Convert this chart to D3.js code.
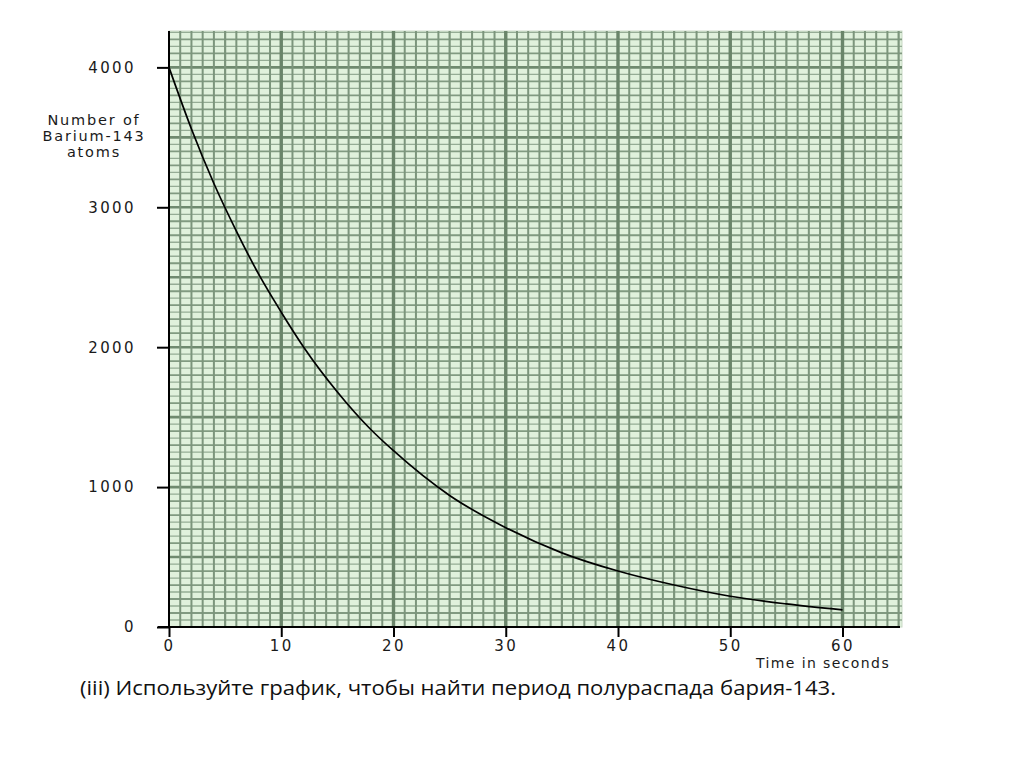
<!DOCTYPE html>
<html><head><meta charset="utf-8">
<script src="https://cdn.jsdelivr.net/npm/d3@7"></script>
<style>body{margin:0;background:#fff;}svg{display:block;}</style>
</head><body>
<svg id="c" width="1024" height="767"></svg>
<script>
const times = [0, 2, 4, 6, 8, 10, 12, 15, 18, 20, 25, 30, 35, 40, 45, 50, 55, 60];
const atoms = [4000, 3560, 3170, 2830, 2520, 2250, 2000, 1680, 1410, 1260, 940, 710, 530, 400, 300, 220, 165, 122];
const yTicks = [0, 1000, 2000, 3000, 4000];
const xTicks = [0, 10, 20, 30, 40, 50, 60];
const yLabelLines = ["Number of", "Barium-143", "atoms"];
const xLabel = "Time in seconds";
const caption = "(iii) Используйте график, чтобы найти период полураспада бария-143.";

const svg = d3.select("#c");
const x = d3.scaleLinear().domain([0, 65.3]).range([169, 902]);
const y = d3.scaleLinear().domain([0, 4260]).range([627, 31]);

svg.append("rect").attr("x", x(0)).attr("y", y(4260)).attr("width", x(65.3) - x(0)).attr("height", y(0) - y(4260))
  .attr("fill", "#e0f1dc").attr("stroke", "#c9d9c6").attr("stroke-width", 1);

const g = svg.append("g");
d3.range(50, 4260, 50).forEach(v => {
  const major = v % 500 === 0, mid = v % 100 === 0;
  g.append("line").attr("x1", x(0)).attr("x2", x(65.3)).attr("y1", y(v)).attr("y2", y(v))
    .attr("stroke", major ? "#6f8a6f" : (mid ? "#819a81" : "#95ac95"))
    .attr("stroke-width", major ? 2.6 : (mid ? 1.8 : 1.3));
});
d3.range(1, 65.3, 1).forEach(v => {
  const major = v % 10 === 0, mid = v % 5 === 0;
  g.append("line").attr("y1", y(0)).attr("y2", y(4260)).attr("x1", x(v)).attr("x2", x(v))
    .attr("stroke", major ? "#6a856a" : "#7c957c")
    .attr("stroke-width", major ? 3.4 : (mid ? 2.2 : 2));
});

const font = "'DejaVu Sans', sans-serif";
const yAxis = d3.axisLeft(y).tickValues(yTicks).tickSize(12).tickPadding(21).tickFormat(d3.format("d"));
const ya = svg.append("g").attr("transform", `translate(${x(0)},0)`).call(yAxis);
ya.select(".domain").attr("d", `M0,${y(4260)}V${y(0)}`).attr("stroke", "#000").attr("stroke-width", 2);
ya.selectAll(".tick line").attr("stroke", "#000").attr("stroke-width", 2);
ya.selectAll(".tick text").attr("font-family", font).attr("font-size", 15).attr("letter-spacing", 2.4).attr("fill", "#1a1a1a");

const xAxis = d3.axisBottom(x).tickValues(xTicks).tickSize(10).tickPadding(3).tickFormat(d3.format("d"));
const xa = svg.append("g").attr("transform", `translate(0,${y(0)})`).call(xAxis);
xa.select(".domain").attr("d", `M${x(0) - 11},0H${x(65.3) - 2}`).attr("stroke", "#000").attr("stroke-width", 2);
xa.selectAll(".tick line").attr("stroke", "#000").attr("stroke-width", 2);
xa.selectAll(".tick text").attr("font-family", font).attr("font-size", 15).attr("letter-spacing", 2.4).attr("fill", "#1a1a1a");

const line = d3.line().x((d, i) => x(times[i])).y(d => y(d)).curve(d3.curveMonotoneX);
svg.append("path").datum(atoms).attr("d", line).attr("fill", "none").attr("stroke", "#000").attr("stroke-width", 1.7);

svg.append("text").attr("font-family", font).attr("font-size", 14.5).attr("letter-spacing", 1.8).attr("fill", "#1a1a1a").attr("text-anchor", "middle")
  .selectAll("tspan").data(yLabelLines).join("tspan").attr("x", 94).attr("y", (d, i) => 125 + i * 16).text(d => d);

svg.append("text").attr("x", 823).attr("y", 668).attr("text-anchor", "middle").attr("font-family", font)
  .attr("font-size", 14).attr("letter-spacing", 1.4).attr("fill", "#1a1a1a").text(xLabel);

svg.append("text").attr("x", 80).attr("y", 695).attr("font-family", "'Open Sans', sans-serif")
  .attr("font-size", 20).attr("textLength", 756).attr("lengthAdjust", "spacingAndGlyphs").attr("fill", "#111").text(caption);
</script>
</body></html>
